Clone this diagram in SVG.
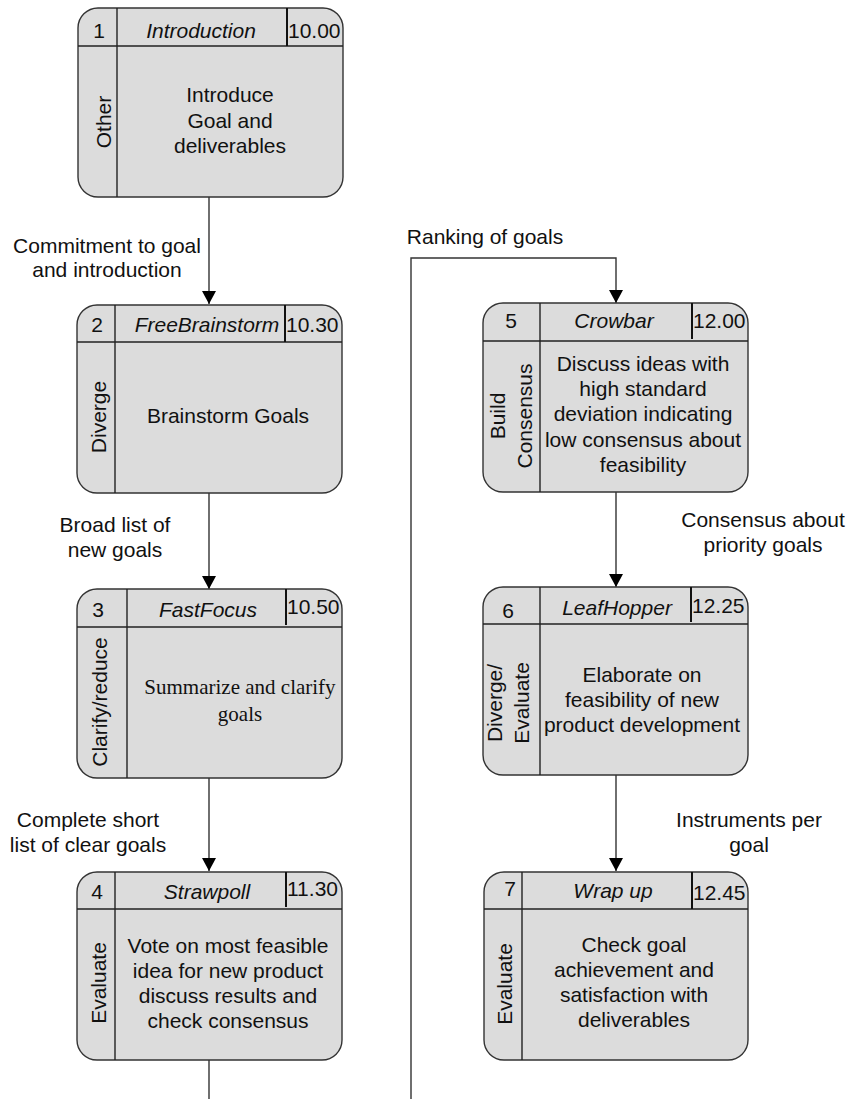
<svg xmlns="http://www.w3.org/2000/svg" width="856" height="1099" viewBox="0 0 856 1099">
<defs>
<marker id="arr" markerUnits="userSpaceOnUse" markerWidth="13" markerHeight="14" refX="13" refY="7" orient="auto" viewBox="0 0 13 14">
<path d="M0,0 L13,7 L0,14 Z" fill="#000"/>
</marker>
</defs>
<style>
.box{fill:#dcdcdc;stroke:#333;stroke-width:1.4}
.ln{stroke:#222;stroke-width:1.4;fill:none}
.td{stroke:#111;stroke-width:2;fill:none}
.t{font-family:"Liberation Sans",Arial,sans-serif;font-size:21px;fill:#111}
.m{text-anchor:middle}
.i{font-style:italic}
.ser{font-family:"Liberation Serif","Times New Roman",serif}
.con{stroke:#333;stroke-width:1.4;fill:none}
</style>
<rect width="856" height="1099" fill="#fff"/>
<g id="connectors">
<line class="con" x1="209" y1="197" x2="209" y2="304" marker-end="url(#arr)"/>
<line class="con" x1="209" y1="493" x2="209" y2="589" marker-end="url(#arr)"/>
<line class="con" x1="209" y1="778" x2="209" y2="871" marker-end="url(#arr)"/>
<line class="con" x1="209" y1="1060" x2="209" y2="1099"/>
<polyline class="con" points="411,1099 411,258 616,258 616,303" marker-end="url(#arr)"/>
<line class="con" x1="616" y1="492" x2="616" y2="587" marker-end="url(#arr)"/>
<line class="con" x1="616" y1="775" x2="616" y2="871" marker-end="url(#arr)"/>
<text class="t m" x="107" y="253">Commitment to goal</text>
<text class="t m" x="107" y="277">and introduction</text>
<text class="t m" x="115" y="532">Broad list of</text>
<text class="t m" x="115" y="557">new goals</text>
<text class="t m" x="88" y="827">Complete short</text>
<text class="t m" x="88" y="852">list of clear goals</text>
<text class="t m" x="485" y="244">Ranking of goals</text>
<text class="t m" x="763" y="527">Consensus about</text>
<text class="t m" x="763" y="552">priority goals</text>
<text class="t m" x="749" y="827">Instruments per</text>
<text class="t m" x="749" y="852">goal</text>
</g>
<g id="node1">
<rect class="box" x="78" y="8" width="265" height="189" rx="20"/>
<line class="ln" x1="78" y1="46" x2="343" y2="46"/>
<line class="ln" x1="117" y1="8" x2="117" y2="197"/>
<line class="td" x1="287" y1="8" x2="287" y2="46"/>
<text class="t m" x="99" y="38">1</text>
<text class="t m i" x="201" y="38">Introduction</text>
<text class="t" x="288" y="38">10.00</text>
<text class="t m" transform="translate(111,122) rotate(-90)">Other</text>
<text class="t m" x="230" y="102">Introduce</text>
<text class="t m" x="230" y="127.5">Goal and</text>
<text class="t m" x="230" y="153">deliverables</text>
</g>
<g id="node2">
<rect class="box" x="77" y="305" width="265" height="188" rx="20"/>
<line class="ln" x1="77" y1="342" x2="342" y2="342"/>
<line class="ln" x1="115" y1="305" x2="115" y2="493"/>
<line class="td" x1="285" y1="305" x2="285" y2="342"/>
<text class="t m" x="97" y="332">2</text>
<text class="t m i" x="207" y="332">FreeBrainstorm</text>
<text class="t" x="286" y="332">10.30</text>
<text class="t m" transform="translate(106,417) rotate(-90)">Diverge</text>
<text class="t m" x="228" y="423">Brainstorm Goals</text>
</g>
<g id="node3">
<rect class="box" x="77" y="589" width="265" height="189" rx="20"/>
<line class="ln" x1="77" y1="627" x2="342" y2="627"/>
<line class="ln" x1="127" y1="589" x2="127" y2="778"/>
<line class="td" x1="286" y1="589" x2="286" y2="625"/>
<text class="t m" x="98" y="617">3</text>
<text class="t m i" x="208" y="617">FastFocus</text>
<text class="t" x="287" y="614">10.50</text>
<text class="t m" transform="translate(107,702) rotate(-90)">Clarify/reduce</text>
<text class="t m ser" x="240" y="694">Summarize and clarify</text>
<text class="t m ser" x="240" y="721">goals</text>
</g>
<g id="node4">
<rect class="box" x="77" y="872" width="265" height="188" rx="20"/>
<line class="ln" x1="77" y1="909" x2="342" y2="909"/>
<line class="ln" x1="115" y1="872" x2="115" y2="1060"/>
<line class="td" x1="286" y1="872" x2="286" y2="907"/>
<text class="t m" x="97" y="899">4</text>
<text class="t m i" x="207" y="899">Strawpoll</text>
<text class="t" x="287" y="896">11.30</text>
<text class="t m" transform="translate(106,983) rotate(-90)">Evaluate</text>
<text class="t m" x="228" y="953">Vote on most feasible</text>
<text class="t m" x="228" y="978">idea for new product</text>
<text class="t m" x="228" y="1003">discuss results and</text>
<text class="t m" x="228" y="1028">check consensus</text>
</g>
<g id="node5">
<rect class="box" x="483" y="303" width="265" height="189" rx="20"/>
<line class="ln" x1="483" y1="341" x2="748" y2="341"/>
<line class="ln" x1="540" y1="303" x2="540" y2="492"/>
<line class="td" x1="692" y1="303" x2="692" y2="339"/>
<text class="t m" x="511" y="328">5</text>
<text class="t m i" x="614" y="328">Crowbar</text>
<text class="t" x="693" y="328">12.00</text>
<text class="t m" transform="translate(505,416) rotate(-90)">Build</text>
<text class="t m" transform="translate(532,416) rotate(-90)">Consensus</text>
<text class="t m" x="643" y="371">Discuss ideas with</text>
<text class="t m" x="643" y="396">high standard</text>
<text class="t m" x="643" y="421">deviation indicating</text>
<text class="t m" x="643" y="447">low consensus about</text>
<text class="t m" x="643" y="472">feasibility</text>
</g>
<g id="node6">
<rect class="box" x="483" y="587" width="265" height="188" rx="20"/>
<line class="ln" x1="483" y1="624" x2="748" y2="624"/>
<line class="ln" x1="540" y1="587" x2="540" y2="775"/>
<line class="td" x1="691" y1="587" x2="691" y2="622"/>
<text class="t m" x="508" y="618">6</text>
<text class="t m i" x="617" y="615">LeafHopper</text>
<text class="t" x="692" y="613">12.25</text>
<text class="t m" transform="translate(502,703) rotate(-90)">Diverge/</text>
<text class="t m" transform="translate(529,703) rotate(-90)">Evaluate</text>
<text class="t m" x="642" y="682">Elaborate on</text>
<text class="t m" x="642" y="707">feasibility of new</text>
<text class="t m" x="642" y="732">product development</text>
</g>
<g id="node7">
<rect class="box" x="484" y="872" width="264" height="188" rx="20"/>
<line class="ln" x1="484" y1="909" x2="748" y2="909"/>
<line class="ln" x1="522" y1="872" x2="522" y2="1060"/>
<line class="td" x1="692" y1="872" x2="692" y2="909"/>
<text class="t" x="516" y="896" text-anchor="end">7</text>
<text class="t m i" x="613" y="898">Wrap up</text>
<text class="t" x="693" y="900">12.45</text>
<text class="t m" transform="translate(512,984) rotate(-90)">Evaluate</text>
<text class="t m" x="634" y="952">Check goal</text>
<text class="t m" x="634" y="977">achievement and</text>
<text class="t m" x="634" y="1002">satisfaction with</text>
<text class="t m" x="634" y="1027">deliverables</text>
</g>
</svg>
